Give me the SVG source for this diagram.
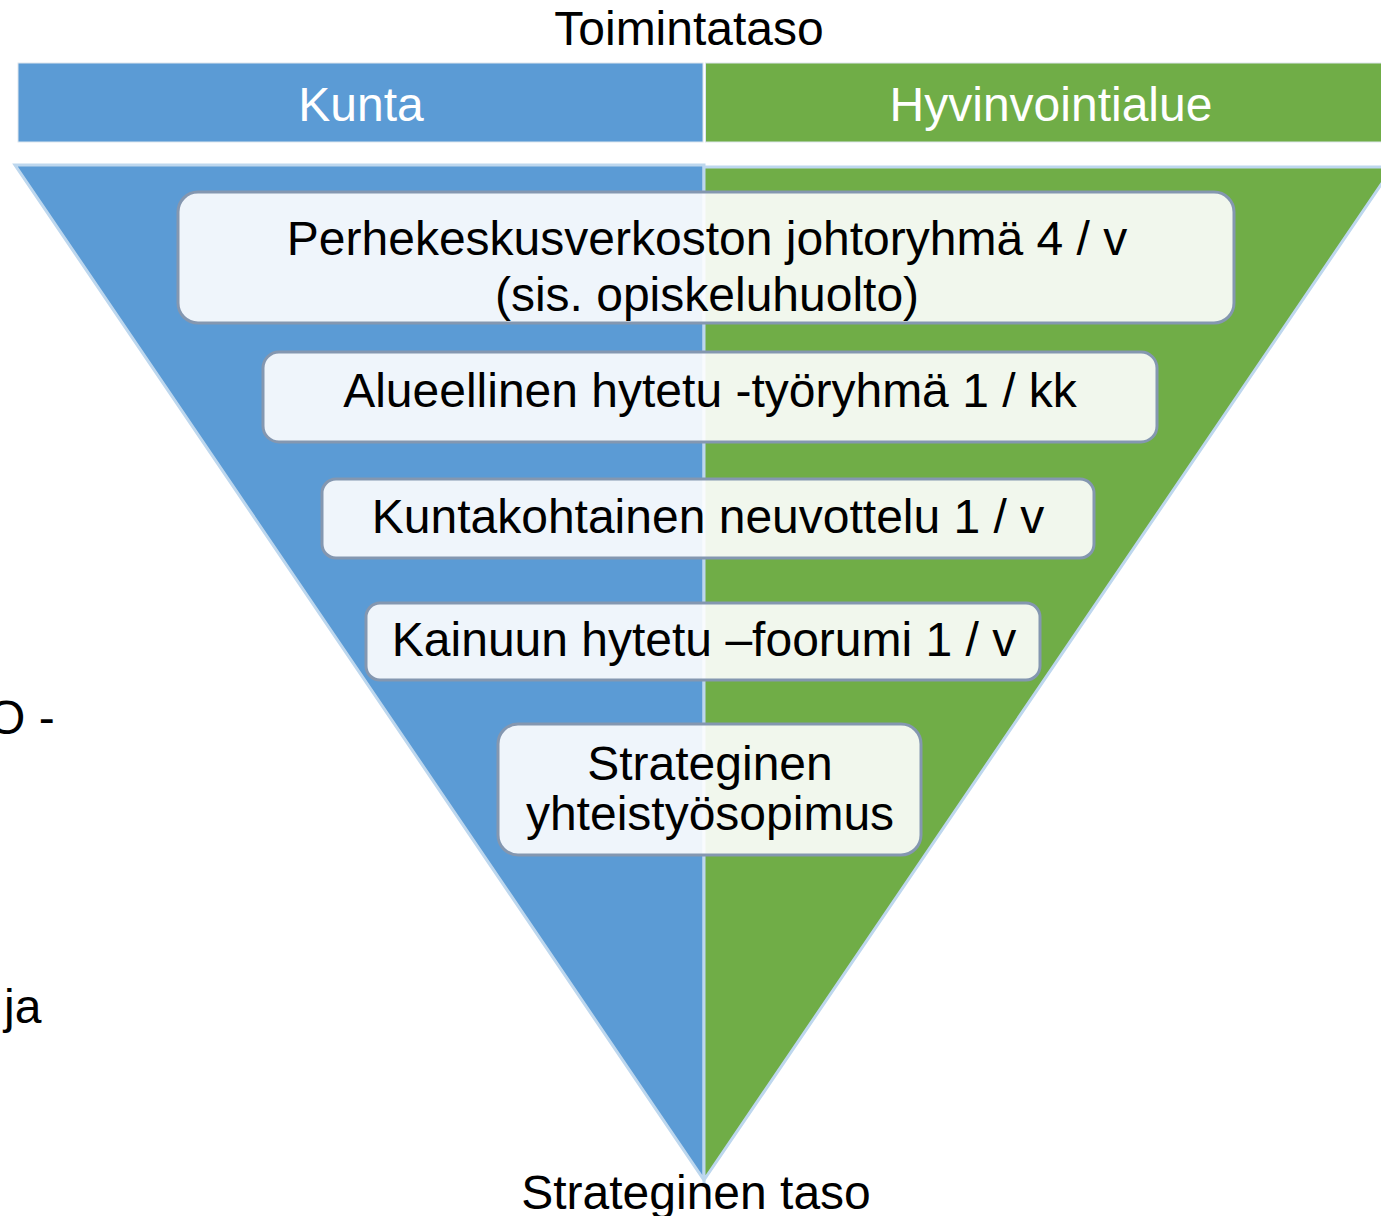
<svg xmlns="http://www.w3.org/2000/svg" width="1381" height="1216" viewBox="0 0 1381 1216">
<style>
text{font-family:"Liberation Sans",Arial,sans-serif;font-size:48px;fill:#000;text-anchor:middle}
.w{fill:#fff}
.box{fill:#fff;fill-opacity:0.9;stroke:#8497b0;stroke-width:3}
.hdr{stroke:#dde6ee;stroke-width:1}
.tri{stroke:#bdd7ee;stroke-width:3;stroke-linejoin:miter}
</style>
<rect width="1381" height="1216" fill="#fff"/>
<g id="title"><text x="689" y="45">Toimintataso</text></g>
<g id="kunta"><rect class="hdr" x="18" y="63" width="685" height="79" fill="#5b9bd5"/><text class="w" x="361" y="121">Kunta</text></g>
<g id="hyvinvointialue"><rect class="hdr" x="705.5" y="63" width="680" height="79" fill="#70ad47"/><text class="w" x="1051" y="121">Hyvinvointialue</text></g>
<g id="triangle">
<polygon class="tri" points="15,165 704,165 704,1180" fill="#5b9bd5"/>
<polygon class="tri" points="704,167 1393,167 704,1180" fill="#70ad47"/>
</g>
<g id="connectors"></g>
<g id="n1"><rect class="box" x="178" y="192" width="1056" height="131" rx="20"/><text x="707" y="255">Perhekeskusverkoston johtoryhmä 4 / v</text><text x="707" y="311">(sis. opiskeluhuolto)</text></g>
<g id="n2"><rect class="box" x="263" y="352" width="894" height="90" rx="16"/><text x="710" y="407">Alueellinen hytetu -työryhmä 1 / kk</text></g>
<g id="n3"><rect class="box" x="322" y="479" width="772" height="79" rx="14"/><text x="708" y="533">Kuntakohtainen neuvottelu 1 / v</text></g>
<g id="n4"><rect class="box" x="366" y="603" width="674" height="77" rx="14"/><text x="704" y="656">Kainuun hytetu –foorumi 1 / v</text></g>
<g id="n5"><rect class="box" x="498" y="724" width="423" height="131" rx="20"/><text x="710" y="780">Strateginen</text><text x="710" y="830">yhteistyösopimus</text></g>
<g id="bottom"><text x="696" y="1209">Strateginen taso</text></g>
<g id="left"><text x="-12" y="734" style="text-anchor:start">O -</text><text x="4" y="1023" style="text-anchor:start">ja</text></g>
</svg>
